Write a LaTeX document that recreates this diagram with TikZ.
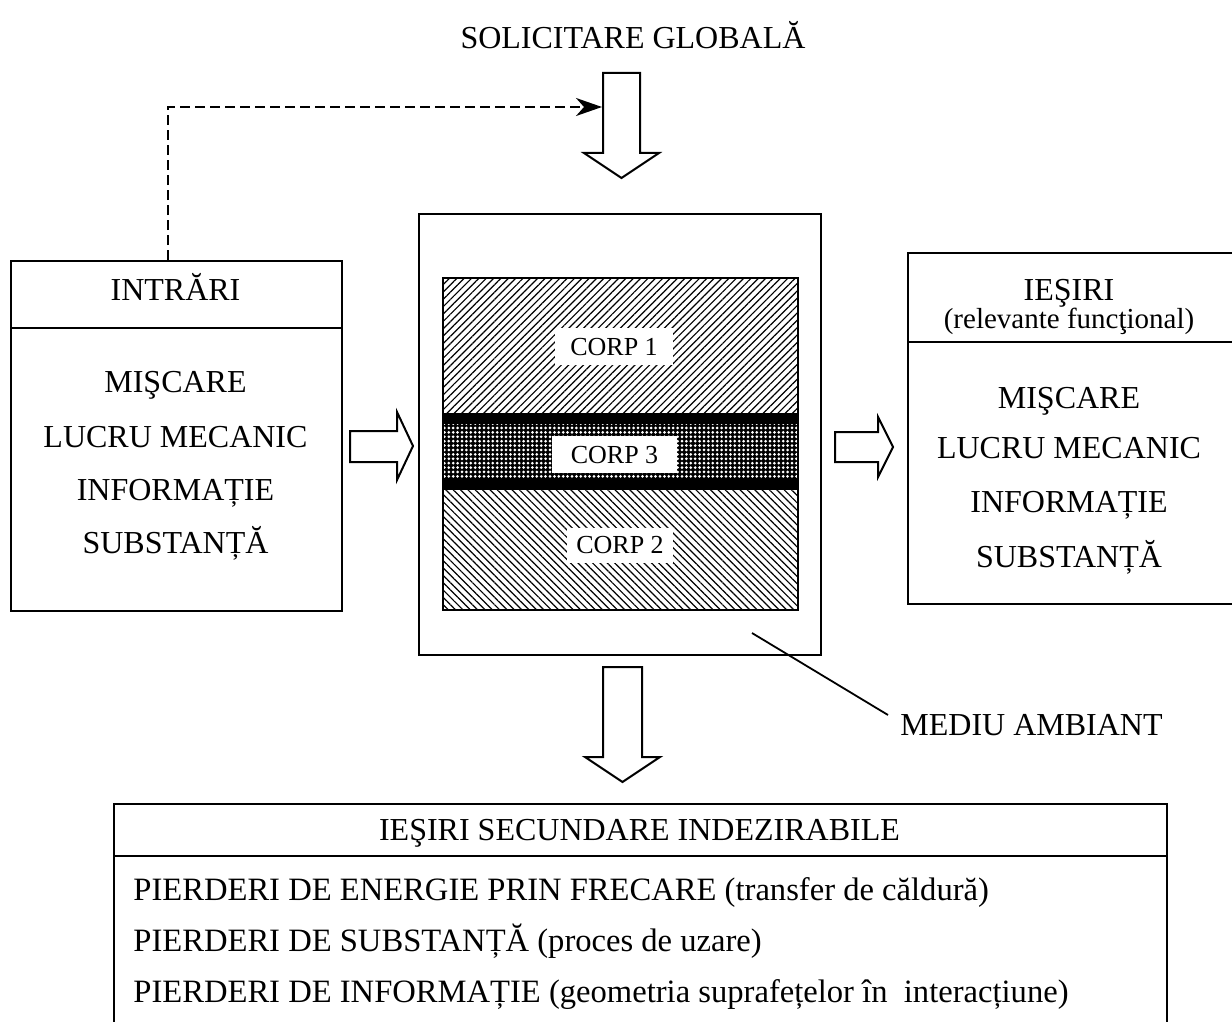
\documentclass[tikz,border=0pt]{standalone}
\usepackage{fontspec}
\setmainfont{Liberation Serif}
\usetikzlibrary{patterns.meta,arrows.meta}

\begin{document}
\begin{tikzpicture}[x=0.5pt, y=-0.5pt,
  frame/.style={draw, line width=1pt, inner sep=0pt, anchor=north west},
  txt/.style={font=\fontsize{16}{18}\selectfont, inner sep=0pt, text height=10.6pt, text depth=0pt},
  listtxt/.style={font=\fontsize{16.3}{18}\selectfont, inner sep=0pt, anchor=base west},
  small/.style={font=\fontsize{14.5}{16}\selectfont, inner sep=0pt},
  corplabel/.style={fill=white, inner sep=0pt, font=\fontsize{13}{15}\selectfont,
    text height=8.6pt, text depth=0pt, minimum height=18.5pt},
  blockarrow/.style={draw, line width=1pt, fill=white, line join=miter},
  dashconn/.style={line width=0.8pt, dash pattern=on 5pt off 2.5pt,
    -{Stealth[length=13pt, width=9pt, inset=4pt]}},
  thin/.style={line width=0.9pt}
]
\clip (0,0) rectangle (1232,1022);

% title
\node[txt] (title) at (633,38) {SOLICITARE GLOBALĂ};

% global load arrow
\draw[blockarrow] (603,73) -- (640,73) -- (640,153) -- (659,153) -- (621.5,178)
  -- (584,153) -- (603,153) -- cycle;
\coordinate (loadin) at (602,107);

% inputs box
\node[frame, minimum width=165.5pt, minimum height=175pt] (in) at (10,260) {};
\draw[thin] (10,328) -- (341,328);
\node[txt] (inhead) at (175.5,290) {INTRĂRI};
\node[txt] (in1) at (175.5,382) {MIŞCARE};
\node[txt] (in2) at (175.5,437) {LUCRU MECANIC};
\node[txt] (in3) at (175.5,490) {INFORMAȚIE};
\node[txt] (in4) at (175.5,543) {SUBSTANȚĂ};

% feedback from inputs to the global load
\coordinate (dashx) at (168,0);
\draw[dashconn] (in.north -| dashx) |- (loadin);

% input arrow
\draw[blockarrow] (350,431) -- (397,431) -- (397,412) -- (413,446) -- (397,480)
  -- (397,462) -- (350,462) -- cycle;

% tribosystem: environment box
\node[frame, minimum width=201pt, minimum height=220.5pt] (env) at (418,213) {};

% body 1 (upper)
\fill[pattern={Lines[angle=45, distance=2.6pt, line width=0.6pt]}] (442,277) rectangle (797,413);
% body 2 (lower)
\fill[pattern={Lines[angle=-45, distance=2.6pt, line width=0.6pt]}] (442,490) rectangle (797,609);
% body 3 (interface layer)
\fill[black] (442,413) rectangle (797,490);
\fill[pattern={Dots[distance=2.2pt, radius=0.75pt]}, pattern color=white] (442,424) rectangle (797,478);
\node[frame, minimum width=177.5pt, minimum height=166pt] (bodies) at (442,277) {};

\node[corplabel, minimum width=59pt] (c1) at (614,346.5) {CORP 1};
\node[corplabel, minimum width=62.5pt] (c3) at (614.5,454.5) {CORP 3};
\node[corplabel, minimum width=53pt, minimum height=17.5pt] (c2) at (620,545) {CORP 2};

% output arrow
\draw[blockarrow] (835,432) -- (878,432) -- (878,417) -- (893,447) -- (878,477)
  -- (878,462) -- (835,462) -- cycle;

% relevant outputs box
\node[frame, minimum width=164pt, minimum height=175.5pt] (out) at (907,252) {};
\draw[thin] (907,342) -- (1234,342);
\node[txt] (outhead) at (1069,290) {IEŞIRI};
\node[small] (outsub) at (1069,321) {(relevante funcţional)};
\node[txt] (out1) at (1069,398) {MIŞCARE};
\node[txt] (out2) at (1069,448) {LUCRU MECANIC};
\node[txt] (out3) at (1069,502) {INFORMAȚIE};
\node[txt] (out4) at (1069,557) {SUBSTANȚĂ};

% environment label
\node[txt, anchor=west] (med) at (900,725) {MEDIU AMBIANT};
\coordinate (medtip) at (752,633);
\draw[thin] (medtip) -- ([xshift=-6pt, yshift=5pt]med.west);

% losses arrow
\draw[blockarrow] (603,667) -- (642,667) -- (642,757) -- (660,757) -- (622.5,782)
  -- (585,757) -- (603,757) -- cycle;

% undesired secondary outputs box
\node[frame, minimum width=526.5pt, minimum height=115pt] (loss) at (113,803) {};
\draw[thin] (113,856) -- (1166,856);
\node[txt] (losshead) at (639.5,830) {IEŞIRI SECUNDARE INDEZIRABILE};
\node[listtxt] (l1) at (133,900)
  {PIERDERI DE ENERGIE PRIN FRECARE (transfer de căldură)};
\node[listtxt] (l2) at (133,951)
  {PIERDERI DE SUBSTANȚĂ (proces de uzare)};
\node[listtxt] (l3) at (133,1002)
  {PIERDERI DE INFORMAȚIE (geometria suprafețelor în\ \ interacțiune)};
\end{tikzpicture}
\end{document}
